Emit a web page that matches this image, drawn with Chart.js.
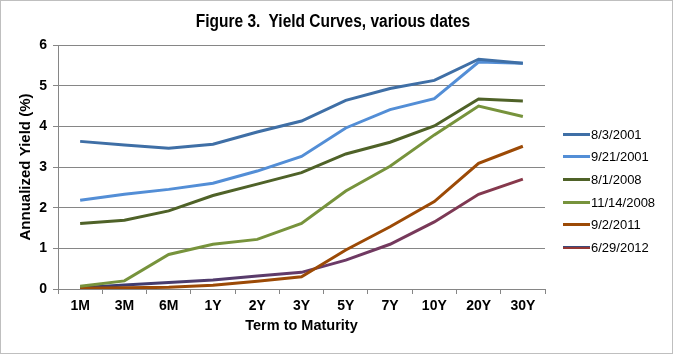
<!DOCTYPE html>
<html>
<head>
<meta charset="utf-8">
<script src="https://cdn.jsdelivr.net/npm/chart.js@4"></script>
<style>
  html, body { margin: 0; padding: 0; background: #fff; }
  #wrap {
    position: relative;
    width: 673px;
    height: 354px;
    font-family: "Liberation Sans", Arial, sans-serif;
  }
  #frame {
    position: absolute; left: 0; top: 0; width: 673px; height: 354px;
    box-sizing: border-box; border: 1px solid #bfbfbf; pointer-events: none;
  }
  #chart { position: absolute; left: 0; top: 0; }
  #title {
    position: absolute; left: 0; top: 12px; width: 666px; text-align: center;
    font-weight: bold; font-size: 18px; line-height: 19px; color: #000;
    white-space: pre; transform: scaleX(0.86); transform-origin: 333px 0;
  }
  #legend { position: absolute; left: 563px; top: 123px; }
  .item { height: 22.6px; display: flex; align-items: center; font-size: 13px; color: #000; }
  .swatch { width: 27px; height: 3px; margin-right: 1px; }
</style>
</head>
<body>
<div id="wrap">
  <canvas id="chart" width="673" height="354"></canvas>
  <div id="title">Figure 3.  Yield Curves, various dates</div>
  <div id="legend"></div>
  <div id="frame"></div>
</div>
<script>
  const terms = ["1M", "3M", "6M", "1Y", "2Y", "3Y", "5Y", "7Y", "10Y", "20Y", "30Y"];
  const yTicks = [0, 1, 2, 3, 4, 5, 6];

  const seriesNames = ["8/3/2001", "9/21/2001", "8/1/2008", "11/14/2008", "9/2/2011", "6/29/2012"];

  const aug2001 = [3.63, 3.54, 3.46, 3.56, 3.86, 4.13, 4.64, 4.93, 5.13, 5.65, 5.55];
  const sep2001 = [2.18, 2.33, 2.45, 2.6, 2.9, 3.26, 3.96, 4.41, 4.68, 5.58, 5.55];
  const aug2008 = [1.61, 1.69, 1.92, 2.3, 2.58, 2.86, 3.32, 3.61, 4.01, 4.67, 4.62];
  const nov2008 = [0.07, 0.2, 0.85, 1.1, 1.22, 1.61, 2.41, 3.02, 3.79, 4.5, 4.24];
  const sep2011 = [0.02, 0.03, 0.04, 0.09, 0.19, 0.3, 0.96, 1.53, 2.15, 3.09, 3.51];
  const jun2012 = [0.03, 0.1, 0.16, 0.22, 0.32, 0.41, 0.71, 1.1, 1.65, 2.33, 2.7];

  const seriesValues = [aug2001, sep2001, aug2008, nov2008, sep2011, jun2012];
  const seriesColors = ["#3f6fa6", "#538ed6", "#4f6228", "#77933c", "#9c4a06", "#6a3858"];

  const font = "'Liberation Sans', Arial, sans-serif";

  function lineColor(i) {
    if (i !== 5) return seriesColors[i];
    // last series fades from dark blue to dark red, like the picture
    return (context) => {
      const area = context.chart.chartArea;
      if (!area) return seriesColors[i];
      const g = context.chart.ctx.createLinearGradient(area.left, 0, area.right, 0);
      g.addColorStop(0, "#2f3d72");
      g.addColorStop(0.55, "#6a3a68");
      g.addColorStop(1, "#8c3846");
      return g;
    };
  }

  const datasets = seriesNames.map((name, i) => ({
    label: name,
    data: seriesValues[i],
    borderColor: lineColor(i),
    backgroundColor: seriesColors[i],
    borderWidth: 3,
    pointRadius: 0,
    tension: 0,
    fill: false,
  }));

  const ctx = document.getElementById("chart");

  new Chart(ctx, {
    type: "line",
    data: { labels: terms, datasets },
    options: {
      responsive: false,
      animation: false,
      layout: { padding: { left: 0, right: 128, top: 45, bottom: 0 } },
      plugins: {
        legend: { display: false },
        tooltip: { enabled: false },
        title: { display: false },
      },
      scales: {
        x: {
          offset: true,
          grid: {
            offset: true,
            drawOnChartArea: false,
            drawTicks: true,
            tickLength: 5,
            color: "#868686",
          },
          border: { display: true, color: "#868686" },
          ticks: {
            color: "#000",
            font: { family: font, size: 14, weight: "bold" },
            padding: 4,
            maxRotation: 0,
            autoSkip: false,
          },
          title: {
            display: true,
            text: "Term to Maturity",
            color: "#000",
            font: { family: font, size: 14.5, weight: "bold" },
            padding: { top: 0, bottom: 19 },
          },
          afterFit: (scale) => { scale.height = 65; },
        },
        y: {
          min: 0,
          max: 6,
          afterBuildTicks: (scale) => { scale.ticks = yTicks.map((v) => ({ value: v })); },
          grid: {
            color: "#868686",
            drawTicks: true,
            tickLength: 5,
          },
          border: { display: true, color: "#868686" },
          ticks: {
            color: "#000",
            font: { family: font, size: 14, weight: "bold" },
            padding: 6,
          },
          title: {
            display: true,
            text: "Annualized Yield (%)",
            color: "#000",
            font: { family: font, size: 15, weight: "bold" },
            padding: { top: 17, bottom: 0 },
          },
          afterFit: (scale) => { scale.width = 58; },
        },
      },
    },
  });

  const legendEl = document.getElementById("legend");
  legendEl.innerHTML = seriesNames
    .map((name, i) => {
      const bg = i === 5
        ? "linear-gradient(to bottom, #3b4a7a 50%, #953735 50%)"
        : seriesColors[i];
      return `<div class="item"><span class="swatch" style="background:${bg}"></span>${name}</div>`;
    })
    .join("");
</script>
</body>
</html>
